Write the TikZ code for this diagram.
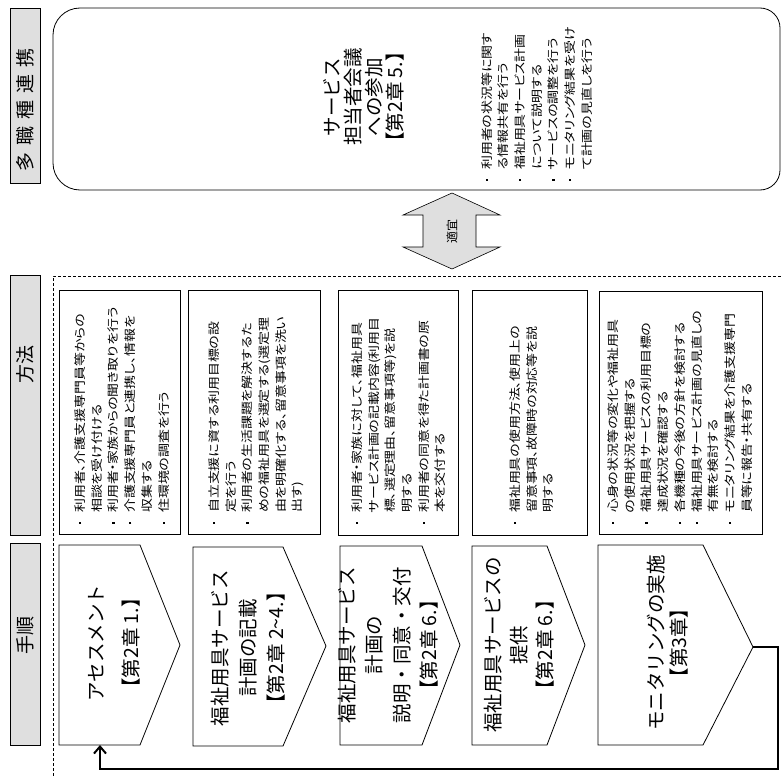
\documentclass[tikz,border=0pt]{standalone}
\usepackage{fontspec}
\usetikzlibrary{arrows.meta}
\newfontfamily\jpf[CharacterWidth=Proportional]{Noto Sans CJK JP}
\newfontfamily\jpn[CharacterWidth=AlternateProportional,FakeStretch=1.2]{Noto Sans CJK JP}
\newcommand{\bul}{\makebox[12pt][l]{\hspace{1pt}\raisebox{3.3pt}{\rule{2.2pt}{2.2pt}}}}
\newcommand{\ind}{\hspace*{12pt}}
\tikzset{
  lab/.style={draw, fill=gray!25, line width=0.8pt, inner sep=0pt, anchor=north west},
  box/.style={draw, line width=0.8pt},
  mbox/.style={draw, line width=0.8pt, inner sep=0pt, anchor=north west},
  small/.style={rotate=90, anchor=north west, inner sep=0pt, align=left, font=\jpn\fontsize{11.6}{16.7}\selectfont},
  big/.style={rotate=90, inner sep=0pt, align=center, font=\jpf\fontsize{19.5}{#1}\selectfont},
  labtext/.style={rotate=90, inner sep=0pt, font=\jpf\fontsize{19}{19}\selectfont},
  frame/.style={line width=0.8pt, dash pattern=on 3pt off 2pt},
}
\begin{document}
\begin{tikzpicture}[x=1pt,y=-1pt]
\useasboundingbox (0,0) rectangle (782,776);

% left labels
\node[lab, minimum width=30pt, minimum height=175pt] (l1) at (10,8) {};
\node[labtext] (l1t) at (25,110) {多\hspace{7pt}職\hspace{7pt}種\hspace{7pt}連\hspace{7pt}携};
\node[lab, minimum width=30pt, minimum height=260pt] (l2) at (10,275) {};
\node[labtext] (l2t) at (25,364) {方法};
\node[lab, minimum width=30pt, minimum height=202pt] (l3) at (10,543) {};
\node[labtext] (l3t) at (25,635) {手順};

% top rounded box
\draw[box, rounded corners=27pt] (400,8) -- (53,8) -- (53,190) -- (400,190)
  [rounded corners=20pt] -- (780,190) -- (780,8) -- cycle;
\node[big=21] (topt) at (364,97) {サービス\\担当者会議\\への参加\\【第2章 5.】};
\node[small] (topb) at (481,182) {%
\bul 利用者の状況等に関す\\
\ind る情報共有を行う\\
\bul 福祉用具サービス計画\\
\ind について説明する\\
\bul サービスの調整を行う\\
\bul モニタリング結果を受け\\
\ind て計画の見直しを行う};

% double arrow
\draw[fill=gray!25, line width=0.6pt] (452,193) -- (500,215) -- (476,215) -- (476,247)
  -- (500,247) -- (452,269) -- (403,247) -- (423,247) -- (423,215) -- (403,215) -- cycle;
\node[rotate=90, inner sep=0pt, font=\jpf\fontsize{12}{12}\selectfont] (tekigi) at (452,231) {適宜};

% method region frame
\draw[frame] (53,776) -- (53,276) -- (782,276);

% method boxes
\node[mbox, minimum width=121pt, minimum height=244pt] (m1) at (59,290) {};
\node[mbox, minimum width=132pt, minimum height=244pt] (m2) at (188,290) {};
\node[mbox, minimum width=120pt, minimum height=245pt] (m3) at (338,290) {};
\node[mbox, minimum width=115pt, minimum height=245pt] (m4) at (472,290) {};
\node[mbox, minimum width=163pt, minimum height=243pt] (m5) at (599,291) {};

\node[small] (m1t) at (74.5,525) {%
\bul 利用者、介護支援専門員等からの\\
\ind 相談を受け付ける\\
\bul 利用者・家族からの聞き取りを行う\\
\bul 介護支援専門員と連携し、情報を\\
\ind 収集する\\
\bul 住環境の調査を行う};
\node[small] (m2t) at (208.5,525) {%
\bul 自立支援に資する利用目標の設\\
\ind 定を行う\\
\bul 利用者の生活課題を解決するた\\
\ind めの福祉用具を選定する(選定理\\
\ind 由を明確化する、留意事項を洗い\\
\ind 出す)};
\node[small] (m3t) at (351.5,525) {%
\bul 利用者・家族に対して、福祉用具\\
\ind サービス計画の記載内容(利用目\\
\ind 標、選定理由、留意事項等)を説\\
\ind 明する\\
\bul 利用者の同意を得た計画書の原\\
\ind 本を交付する};
\node[small] (m4t) at (509.5,525) {%
\bul 福祉用具の使用方法、使用上の\\
\ind 留意事項、故障時の対応等を説\\
\ind 明する};
\node[small] (m5t) at (607.5,525) {%
\bul 心身の状況等の変化や福祉用具\\
\ind の使用状況を把握する\\
\bul 福祉用具サービスの利用目標の\\
\ind 達成状況を確認する\\
\bul 各機種の今後の方針を検討する\\
\bul 福祉用具サービス計画の見直しの\\
\ind 有無を検討する\\
\bul モニタリング結果を介護支援専門\\
\ind 員等に報告・共有する};

% procedure chevrons
\draw[box] (59,545) -- (140,545) -- (180,645) -- (140,745) -- (59,745) -- cycle;
\draw[box] (193,547) -- (283,547) -- (326,646) -- (283,746) -- (193,746) -- cycle;
\draw[box] (340,546) -- (422,546) -- (460,645) -- (422,745) -- (340,745) -- cycle;
\draw[box] (472,546) -- (547,546) -- (585,645) -- (547,745) -- (472,745) -- cycle;
\draw[box] (598,545) -- (703,545) -- (753,647) -- (703,745) -- (598,745) -- cycle;
\coordinate (p1bot) at (100,745);
\coordinate (p5tip) at (753,647);

\node[big=35] (c1) at (114,643) {アセスメント\\【第2章 1.】};
\node[big=28] (c2) at (248,648) {福祉用具サービス\\計画の記載\\【第2章 2～4.】};
\node[big=27.5] (c3) at (388,645) {福祉用具サービス\\計画の\\説明・同意・交付\\【第2章 6.】};
\node[big=26] (c4) at (519,645) {福祉用具サービスの\\提供\\【第2章 6.】};
\node[big=23] (c5) at (668,643) {モニタリングの実施\\【第3章】};

% return connector
\draw[line width=2pt, -{Straight Barb[length=7pt,width=12pt]}]
  (p5tip) -- ++(25,0) -- ++(0,122) -| (p1bot);
\end{tikzpicture}
\end{document}
